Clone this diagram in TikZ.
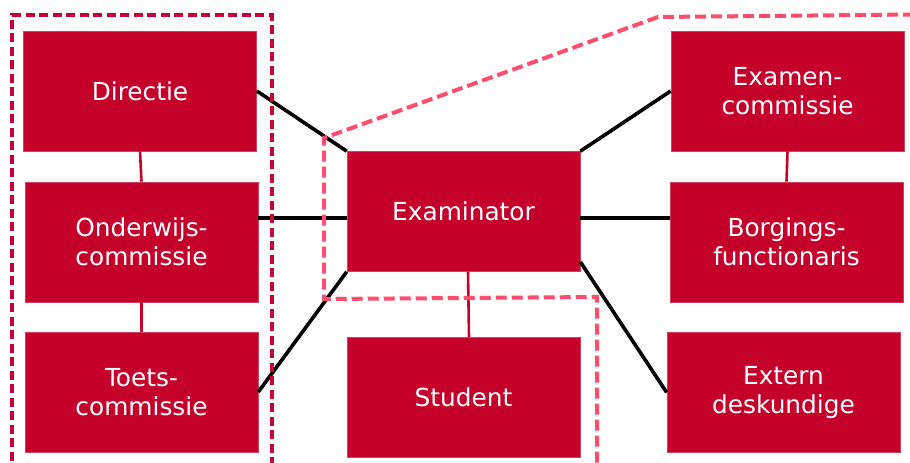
\documentclass[tikz,border=0pt]{standalone}
\usepackage{fontspec}
\setmainfont{DejaVu Sans}
\usetikzlibrary{calc}
\definecolor{boxred}{HTML}{C4002B}
\definecolor{dashpink}{HTML}{FF4D6D}
\definecolor{dashred}{HTML}{C8003A}
\begin{document}
\begin{tikzpicture}[x=1pt,y=-1pt,
  orgbox/.style={fill=boxred, draw=boxred!75!white, line width=0.6pt,
    minimum width=233pt, minimum height=120pt, inner sep=0pt,
    text=white, align=center, font=\fontsize{24.8}{29}\selectfont},
  blackline/.style={line width=3.6pt, black},
  redline/.style={line width=2.6pt, boxred},
  outerdash/.style={line width=3.4pt, dashred, dash pattern=on 9pt off 4.5pt},
  pinkdash/.style={line width=4pt, dashpink, dash pattern=on 11pt off 5pt, line join=miter}]
\useasboundingbox (0,0) rectangle (910,463);
% boxes
\node[orgbox] (dir) at (140,91) {Directie};
\node[orgbox] (ond) at (141.5,242) {Onderwijs-\\commissie};
\node[orgbox] (toe) at (141.5,392) {Toets-\\commissie};
\node[orgbox] (exa) at (463.5,211.5) {Examinator};
\node[orgbox] (stu) at (463.5,397.5) {Student};
\node[orgbox] (exc) at (787.5,91) {Examen-\\commissie};
\node[orgbox] (bor) at (786.5,242) {Borgings-\\functionaris};
\node[orgbox] (ext) at (783.5,392.5) {Extern\\deskundige};
% helper coordinates on the Examinator box
\coordinate (exaL) at ($(exa.west)+(0,6.5)$);
\coordinate (exaR) at ($(exa.east)+(0,6.5)$);
\coordinate (exaSE) at ($(exa.south east)+(0,-10)$);
% black connectors
\draw[blackline] (dir.east) -- (exa.north west);
\draw[blackline] (ond.east |- exaL) -- (exaL);
\draw[blackline] (toe.east) -- (exa.south west);
\draw[blackline] (exa.north east) -- (exc.west);
\draw[blackline] (exaR) -- (bor.west |- exaR);
\draw[blackline] (exaSE) -- (ext.west);
% red connectors
\draw[redline] (dir.south) -- (ond.north);
\draw[redline] (ond.south) -- (toe.north);
\draw[redline] ($(exa.south)+(4.5,0)$) -- ($(stu.north)+(5.5,0)$);
\draw[redline] (exc.south) -- (bor.north);
% dashed groupings
\draw[outerdash] (272,466) -- (272,15) -- (12,15) -- (12,466);
\draw[pinkdash] (914,14.5) -- (658,17) -- (324,138) -- (324,299) -- (597,297) -- (597,466);
\end{tikzpicture}
\end{document}
